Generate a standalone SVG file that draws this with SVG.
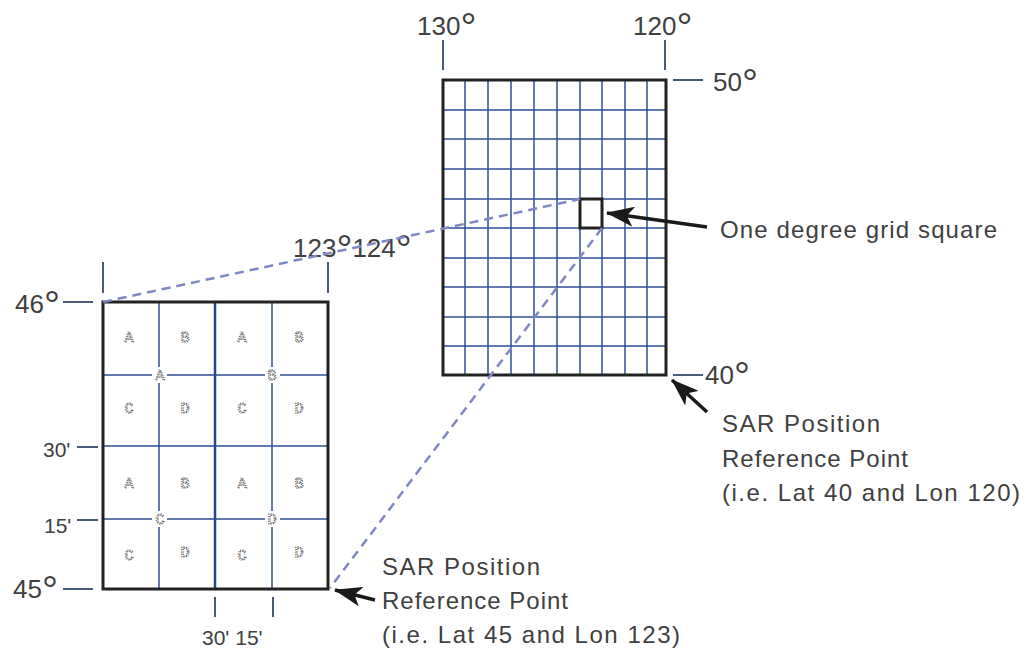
<svg xmlns="http://www.w3.org/2000/svg" width="1026" height="665" viewBox="0 0 1026 665">
<style>
  .lbl { font-family: "Liberation Sans", Arial, sans-serif; fill: #404040; }
  .deg { font-size: 26px; }
  tspan.o { font-size: 40px; }
  .min { font-size: 21px; }
  .note { font-size: 24px; }
  .tick { stroke: #4a5a7a; stroke-width: 2; fill: none; }
  .grid { stroke: #2f4f93; stroke-width: 1.5; fill: none; }
  .bold { stroke: #222; stroke-width: 3; fill: none; }
  .dash { stroke: #7f87c4; stroke-width: 2.5; stroke-dasharray: 9 6; fill: none; }
  .arrow { stroke: #1a1a1a; stroke-width: 3.5; fill: none; marker-end: url(#ah); }
  .cell { font-family: "Liberation Mono", "DejaVu Sans Mono", monospace; font-size: 15px; fill: none; stroke: #555; stroke-width: 1; stroke-dasharray: 1.3 1.1; }
</style>
<defs>
  <marker id="ah" markerUnits="userSpaceOnUse" markerWidth="28" markerHeight="20" viewBox="0 0 28 20" refX="27" refY="10" orient="auto">
    <path d="M0,0 L28,10 L0,20 L7,10 z" fill="#1a1a1a"/>
  </marker>
</defs>
<rect x="0" y="0" width="1026" height="665" fill="#ffffff"/>

<g id="one-degree-grid">
  <path class="grid" d="M465,80V375M488,80V375M511,80V375M534,80V375M557,80V375M580,80V375M602,80V375M625,80V375M647,80V375
    M443,110H666M443,139H666M443,169H666M443,199H666M443,228H666M443,258H666M443,287H666M443,317H666M443,346H666"/>
  <rect class="bold" x="443" y="80" width="223" height="295"/>
  <rect class="bold" x="580" y="199" width="22" height="29"/>
  <path class="tick" d="M443,40V70M665,40V70M673,80H703M673,375H703"/>
  <text class="lbl deg" x="417" y="35">130<tspan class="o" dy="6">°</tspan></text>
  <text class="lbl deg" x="633" y="35">120<tspan class="o" dy="6">°</tspan></text>
  <text class="lbl deg" x="713" y="91">50<tspan class="o" dy="6">°</tspan></text>
  <text class="lbl deg" x="705" y="384">40<tspan class="o" dy="6">°</tspan></text>
</g>

<g id="quarter-grid">
  <path class="grid" d="M159,302V589M272,302V589M103,375H328M103,446H328M103,519H328"/>
  <path stroke="#24478f" stroke-width="2.5" d="M215,302V589"/>
  <rect class="bold" x="103" y="302" width="225" height="287"/>
  <path class="tick" d="M103,262V293M328,262V293M63,302H93M77,447H98M77,520H98M63,589H93M215,597V617M273,597V617"/>
  <text class="lbl deg" x="15" y="313">46<tspan class="o" dy="6">°</tspan></text>
  <text class="lbl min" x="43" y="457">30'</text>
  <text class="lbl min" x="44" y="533">15'</text>
  <text class="lbl deg" x="13" y="598">45<tspan class="o" dy="6">°</tspan></text>
  <text class="lbl deg" x="293" y="257" font-size="24">123<tspan class="o" dy="6">°</tspan><tspan dy="-6">124</tspan><tspan class="o" dy="6">°</tspan></text>
  <text class="lbl min" x="202" y="645">30' 15'</text>
  <g text-anchor="middle">
    <text class="cell" x="129" y="342">A</text>
    <text class="cell" x="185" y="342">B</text>
    <text class="cell" x="242" y="342">A</text>
    <text class="cell" x="299" y="342">B</text>
    <text class="cell" x="129" y="413">C</text>
    <text class="cell" x="185" y="413">D</text>
    <text class="cell" x="242" y="413">C</text>
    <text class="cell" x="299" y="413">D</text>
    <text class="cell" x="129" y="488">A</text>
    <text class="cell" x="185" y="488">B</text>
    <text class="cell" x="242" y="488">A</text>
    <text class="cell" x="299" y="488">B</text>
    <text class="cell" x="129" y="560">C</text>
    <text class="cell" x="185" y="557">D</text>
    <text class="cell" x="242" y="560">C</text>
    <text class="cell" x="299" y="557">D</text>
    <rect x="152" y="367" width="15" height="16" fill="#fff"/>
    <rect x="265" y="367" width="15" height="16" fill="#fff"/>
    <rect x="152" y="511" width="15" height="16" fill="#fff"/>
    <rect x="265" y="511" width="15" height="16" fill="#fff"/>
    <text class="cell" x="160" y="380">A</text>
    <text class="cell" x="272" y="380">B</text>
    <text class="cell" x="160" y="524">C</text>
    <text class="cell" x="272" y="524">D</text>
  </g>
</g>

<g id="connectors">
  <path class="dash" d="M103,302L580,199"/>
  <path class="dash" d="M602,228L330,588"/>
  <path class="arrow" d="M707,227L607,213"/>
  <path class="arrow" d="M707,412L672,380"/>
  <path class="arrow" d="M375,600L335,590"/>
</g>

<g id="label-grid-square">
  <text class="lbl note" x="720" y="238" font-size="25" textLength="277">One degree grid square</text>
</g>
<g id="label-ref-40-120">
  <text class="lbl note" x="722" y="432" textLength="158">SAR Position</text>
  <text class="lbl note" x="722" y="467" textLength="186">Reference Point</text>
  <text class="lbl note" x="722" y="501" textLength="298">(i.e. Lat 40 and Lon 120)</text>
</g>
<g id="label-ref-45-123">
  <text class="lbl note" x="382" y="575" textLength="158">SAR Position</text>
  <text class="lbl note" x="382" y="609" textLength="186">Reference Point</text>
  <text class="lbl note" x="382" y="643" textLength="298">(i.e. Lat 45 and Lon 123)</text>
</g>
</svg>
